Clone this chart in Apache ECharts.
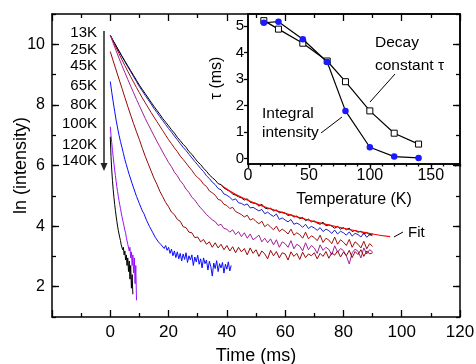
<!DOCTYPE html>
<html><head><meta charset="utf-8">
<script src="https://cdn.jsdelivr.net/npm/echarts@6/dist/echarts.min.js"></script>
<style>html,body{margin:0;padding:0;background:#fff}#c{width:476px;height:364px}</style>
</head><body><div id="c"></div>
<script>
// ---- main plot data ----
const seriesLabels = ['13K','25K','45K','65K','80K','100K','120K','140K'];
const T90 = [0,1,2,3,4,5,6,7,8,9,10,11,12,13,14,15,16,17,18,19,20,21,22,23,24,25,26,27,28,29,30,31,32,33,34,35,36,37,38,39,40,41,42,43,44,45,46,47,48,49,50,51,52,53,54,55,56,57,58,59,60,61,62,63,64,65,66,67,68,69,70,71,72,73,74,75,76,77,78,79,80,81,82,83,84,85,86,87,88,89,90];
const y13K = [10.30,10.12,9.95,9.78,9.61,9.45,9.29,9.13,8.97,8.81,
 8.65,8.51,8.37,8.23,8.09,7.95,7.82,7.69,7.55,7.43,
 7.31,7.18,7.07,6.93,6.82,6.70,6.60,6.46,6.37,6.24,
 6.12,6.03,5.91,5.81,5.69,5.60,5.52,5.40,5.37,5.26,
 5.20,5.15,5.06,5.02,4.97,4.93,4.86,4.90,4.79,4.76,
 4.75,4.66,4.72,4.60,4.57,4.59,4.50,4.53,4.44,4.46,
 4.43,4.35,4.38,4.30,4.33,4.24,4.29,4.18,4.23,4.14,
 4.17,4.10,4.06,4.13,4.01,4.04,4.00,3.93,3.99,3.90,
 3.95,3.88,3.93,3.82,3.86,3.80,3.83,3.74,3.79,3.71,
 3.74];
const y25K = [10.30,10.11,9.94,9.77,9.60,9.43,9.26,9.10,8.93,8.77,
 8.60,8.46,8.31,8.17,8.03,7.88,7.75,7.61,7.48,7.35,
 7.22,7.10,6.97,6.85,6.72,6.60,6.49,6.37,6.25,6.13,
 6.02,5.90,5.80,5.66,5.57,5.45,5.37,5.24,5.20,5.06,
 5.02,4.95,4.86,4.90,4.77,4.75,4.69,4.73,4.60,4.62,
 4.56,4.50,4.55,4.41,4.46,4.38,4.32,4.40,4.22,4.27,
 4.20,4.14,4.22,4.06,4.10,4.05,3.96,4.06,3.92,3.99,
 3.94,3.86,3.95,3.82,3.90,3.85,3.76,3.87,3.74,3.83,
 3.78,3.70,3.81,3.67,3.76,3.72,3.64,3.77,3.63,3.72,
 3.68];
const y45K = [10.30,10.09,9.89,9.69,9.49,9.30,9.11,8.93,8.75,8.57,
 8.40,8.23,8.07,7.91,7.75,7.60,7.45,7.30,7.15,7.00,
 6.85,6.72,6.58,6.46,6.31,6.20,6.08,5.95,5.84,5.70,
 5.60,5.52,5.38,5.31,5.16,5.10,5.02,4.88,4.85,4.72,
 4.68,4.58,4.62,4.48,4.43,4.38,4.30,4.36,4.20,4.25,
 4.15,4.08,4.16,3.98,4.06,3.97,3.88,4.00,3.82,3.90,
 3.83,3.74,3.90,3.70,3.78,3.72,3.60,3.80,3.58,3.68,
 3.62,3.52,3.70,3.46,3.60,3.54,3.42,3.64,3.40,3.55,
 3.47,3.36,3.56,3.30,3.48,3.40,3.28,3.50,3.25,3.42,
 3.33];
const y65K = [10.30,10.04,9.79,9.54,9.30,9.07,8.84,8.62,8.40,8.18,
 7.97,7.76,7.55,7.36,7.17,6.98,6.80,6.62,6.44,6.27,
 6.10,5.96,5.78,5.66,5.50,5.38,5.22,5.11,4.95,4.86,
 4.72,4.60,4.50,4.38,4.30,4.20,4.15,4.02,4.06,3.92,
 3.90,3.80,3.88,3.72,3.82,3.65,3.78,3.60,3.74,3.55,
 3.62,3.70,3.48,3.60,3.45,3.58,3.38,3.55,3.30,3.48,
 3.42,3.30,3.52,3.25,3.40,3.34,3.18,3.45,3.22,3.36,
 3.28,3.10,3.38,3.20,3.30,3.23,3.05,3.35,3.14,3.26,
 3.19,3.02,2.75,3.12,3.24,3.17,2.95,3.28,3.08,3.22,
 3.15];
const y80K = [9.76,9.45,9.15,8.85,8.55,8.25,7.95,7.66,7.38,7.11,
 6.85,6.57,6.30,6.06,5.82,5.58,5.38,5.15,4.97,4.78,
 4.64,4.46,4.38,4.22,4.16,3.98,3.95,3.80,3.78,3.62,
 3.64,3.48,3.56,3.40,3.48,3.30,3.45,3.28,3.40,3.22,
 3.36,3.18,3.32,3.12,3.30,3.15,3.26,3.05,3.28,3.10,
 3.22,3.00,3.18,3.08,2.92,3.20,3.02,3.16,2.95,3.12,
 3.08,2.88,3.15,3.00,3.10,2.90,3.14,2.96,3.08,3.02,
 3.12,2.92,3.10,3.00,3.16,2.94,3.12,3.04,3.18,2.98,
 3.14,3.02,3.20,2.96,3.16,3.06,3.22,3.00,3.18,3.08,
 3.12];
const T100K = [0,0.5,1,1.5,2,2.5,3,3.5,4,4.5,5,5.5,6,6.5,7,7.5,8,8.5,9,9.5,10,10.5,11,11.5,12,12.5,13,13.5,14,14.5,15,15.5,16,16.5,17,17.5,18,18.5,19,19.5,20,20.5,21,21.5,22,22.5,23,23.5,24,24.5,25,25.5,26,26.5,27,27.5,28,28.5,29,29.5,30,30.5,31,31.5,32,32.5,33,33.5,34,34.5,35,35.5,36,36.5,37,37.5,38,38.5,39,39.5,40,40.5,41,41.5];
const y100K = [8.77,8.42,8.10,7.79,7.50,7.24,7.00,6.79,6.60,6.40,
 6.20,6.03,5.86,5.70,5.55,5.40,5.26,5.12,4.98,4.86,
 4.74,4.62,4.50,4.42,4.30,4.18,4.12,3.98,3.95,3.80,
 3.76,3.62,3.66,3.48,3.52,3.38,3.44,3.26,3.36,3.20,
 3.30,3.10,3.24,3.02,3.18,2.96,3.15,2.92,3.10,2.85,
 3.08,2.90,3.12,2.80,3.02,2.88,3.05,2.70,2.98,2.82,
 3.04,2.74,2.92,2.62,2.95,2.76,2.88,2.55,2.84,2.66,
 2.35,2.78,2.60,2.86,2.50,2.76,2.62,2.80,2.45,2.74,
 2.58,2.82,2.52,2.70];
const T120K = [0,0.25,0.5,0.75,1,1.25,1.5,1.75,2,2.25,2.5,2.75,3,3.25,3.5,3.75,4,4.25,4.5,4.75,5,5.25,5.5,5.75,6,6.25,6.5,6.75,7,7.25,7.5,7.75,8,8.25,8.5,8.75,9];
const y120K = [7.28,7.00,6.75,6.50,6.28,6.06,5.86,5.67,5.48,5.30,
 5.14,4.98,4.84,4.70,4.58,4.44,4.32,4.20,4.10,3.98,
 3.86,3.78,3.62,3.58,3.40,3.42,3.18,3.30,2.95,3.15,
 2.70,3.05,2.45,2.95,2.10,2.70,1.55];
const T140K = [0,0.25,0.5,0.75,1,1.25,1.5,1.75,2,2.25,2.5,2.75,3,3.25,3.5,3.75,4,4.25,4.5,4.75,5,5.25,5.5,5.75,6,6.25,6.5,6.75,7,7.25,7.5,7.75];
const y140K = [6.95,6.30,5.85,5.50,5.20,4.95,4.72,4.52,4.33,4.16,
 4.00,3.86,3.74,3.62,3.52,3.38,3.42,3.22,3.30,3.05,
 3.18,2.88,3.05,2.70,2.95,2.50,2.85,2.25,2.70,1.95,
 2.40,1.75];
const TFit = [38,40,45,50,55,60,65,70,75,80,85,90,96];
const yFit = [5.36,5.22,4.95,4.74,4.57,4.42,4.28,4.15,4.04,3.93,3.83,3.74,3.65];
const xTicks = [0,20,40,60,80,100,120];
const yTicks = [2,4,6,8,10];

// ---- inset data ----
const insetTemps = [13,25,45,65,80,100,120,140];
const decayTau = [5.2,4.88,4.35,3.68,2.9,1.8,0.96,0.55];
const integralI = [5.12,5.16,4.5,3.64,1.8,0.43,0.08,0.03];
const insetXTicks = [0,50,100,150];
const insetYTicks = [0,1,2,3,4,5];

const FONT = 'Liberation Sans, Arial, sans-serif';
const zip = (a, b) => a.map((v, i) => [v, b[i]]);

const chart = echarts.init(document.getElementById('c'), null, {renderer: 'canvas'});

const axLine = {show: true, onZero: false, lineStyle: {color: '#000', width: 1.5}};
const noLine = {show: false, onZero: false};
const tickStyle = {color: '#000', width: 1.3};

function mainY(pos, labels) {
  return [{
    gridIndex: 0, type: 'value', position: pos, min: 1, max: 11, interval: 1,
    axisLine: axLine, splitLine: {show: false},
    axisTick: {show: true, inside: true, length: 4, lineStyle: tickStyle},
    axisLabel: labels ? {show: true, fontSize: 16, color: '#000', fontFamily: FONT, margin: 7,
      formatter: v => (yTicks.indexOf(v) >= 0 ? String(v) : '')} : {show: false},
    name: labels ? 'ln (intensity)' : '', nameLocation: 'middle', nameGap: 22, nameMoveOverlap: false,
    nameTextStyle: {fontSize: 18, color: '#000', fontFamily: FONT}
  }, {
    gridIndex: 0, type: 'value', position: pos, min: 1, max: 11,
    axisLine: noLine, splitLine: {show: false},
    axisTick: {show: true, inside: true, length: 7, lineStyle: tickStyle, customValues: yTicks},
    axisLabel: {show: false, customValues: yTicks}
  }];
}
function mainX(pos, labels) {
  return {
    gridIndex: 0, type: 'value', position: pos, min: -20, max: 120, interval: 20,
    axisLine: axLine, splitLine: {show: false},
    axisTick: {show: true, inside: true, length: 7, lineStyle: tickStyle},
    minorTick: {show: true, splitNumber: 2, length: 4, lineStyle: tickStyle},
    axisLabel: labels ? {show: true, fontSize: 17, color: '#000', fontFamily: FONT, margin: 7,
      formatter: v => (xTicks.indexOf(v) >= 0 ? String(v) : '')} : {show: false},
    name: labels ? 'Time (ms)' : '', nameLocation: 'middle', nameGap: 30, nameMoveOverlap: false,
    nameTextStyle: {fontSize: 18, color: '#000', fontFamily: FONT}
  };
}

const line = (x, y, color, extra) => Object.assign({
  type: 'line', xAxisIndex: 0, yAxisIndex: 0, data: zip(x, y), symbol: 'none',
  lineStyle: {color: color, width: 1}, itemStyle: {color: color}, animation: false, z: 2
}, extra || {});

const option = {
  animation: false,
  backgroundColor: '#fff',
  textStyle: {fontFamily: FONT},
  grid: [
    {left: 52, right: 16, top: 14, bottom: 47, show: false, containLabel: false, outerBoundsMode: 'none'},
    {left: 248, right: 16, top: 14, bottom: 200, show: true, borderColor: '#000', borderWidth: 1.5,
      backgroundColor: 'rgba(0,0,0,0)', containLabel: false, outerBoundsMode: 'none'}
  ],
  xAxis: [
    mainX('bottom', true),
    mainX('top', false),
    {
      gridIndex: 1, type: 'value', position: 'bottom', min: 0, max: 174,
      axisLine: axLine, splitLine: {show: false},
      axisTick: {show: true, inside: false, length: 4, lineStyle: tickStyle, customValues: insetXTicks},
      axisLabel: {show: true, fontSize: 16, color: '#000', fontFamily: FONT, margin: 4, customValues: insetXTicks},
      name: 'Temperature (K)', nameLocation: 'middle', nameGap: 28, nameMoveOverlap: false,
      nameTextStyle: {fontSize: 16, color: '#000', fontFamily: FONT}
    },
    {
      gridIndex: 1, type: 'value', position: 'bottom', min: 0, max: 174, interval: 10,
      axisLine: noLine, splitLine: {show: false},
      axisTick: {show: true, inside: false, length: 2.5, lineStyle: tickStyle},
      axisLabel: {show: false}
    }
  ],
  yAxis: [].concat(mainY('left', true), mainY('right', false), [{
      gridIndex: 1, type: 'value', position: 'left', min: -0.2, max: 5.45,
      axisLine: axLine, splitLine: {show: false},
      axisTick: {show: true, inside: false, length: 4, lineStyle: tickStyle, customValues: insetYTicks},
      axisLabel: {show: true, fontSize: 15, color: '#000', fontFamily: FONT, margin: 4, customValues: insetYTicks}
    }]),
  series: [
    line(T90, y25K, '#1c1cc4'),
    line(T90, y13K, '#000000'),
    line(T90, y45K, '#a01010'),
    line(T90, y65K, '#a0209c'),
    line(T90, y80K, '#960808'),
    line(T100K, y100K, '#0a0aff'),
    line(T120K, y120K, '#9a10ff'),
    line(T140K, y140K, '#000000'),
    line(TFit, yFit, '#ff0000', {smooth: true, lineStyle: {color: '#ff0000', width: 1.2}, z: 3}),
    {
      type: 'line', xAxisIndex: 2, yAxisIndex: 4, data: zip(insetTemps, decayTau),
      symbol: 'rect', symbolSize: 6, showAllSymbol: true,
      lineStyle: {color: '#000', width: 1.2},
      itemStyle: {color: '#fff', borderColor: '#000', borderWidth: 1}, z: 3
    },
    {
      type: 'line', xAxisIndex: 2, yAxisIndex: 4, data: zip(insetTemps, integralI),
      symbol: 'circle', symbolSize: 6.5, showAllSymbol: true,
      lineStyle: {color: '#000', width: 1.2},
      itemStyle: {color: '#1a1aff', borderColor: '#1a1aff', borderWidth: 0}, z: 4
    }
  ],
  graphic: [].concat(
    seriesLabels.map((s, i) => ({
      type: 'text', x: 97, y: [33, 50, 66, 86, 105, 124, 145, 161][i],
      style: {text: s, font: '15px ' + FONT, fill: '#000', align: 'right', verticalAlign: 'middle'}
    })),
    [
      {type: 'line', shape: {x1: 104, y1: 31, x2: 104, y2: 165}, style: {stroke: '#222', lineWidth: 1.5}},
      {type: 'polygon', shape: {points: [[100.5, 163], [107.5, 163], [104, 171]]}, style: {fill: '#222'}},
      {type: 'text', x: 217, y: 78, rotation: Math.PI / 2,
        style: {text: 'τ (ms)', font: '16px ' + FONT, fill: '#000', align: 'center', verticalAlign: 'middle'}},
      {type: 'text', x: 375, y: 43, style: {text: 'Decay', font: '15.5px ' + FONT, fill: '#000', align: 'left', verticalAlign: 'middle'}},
      {type: 'text', x: 375, y: 66, style: {text: 'constant τ', font: '15.5px ' + FONT, fill: '#000', align: 'left', verticalAlign: 'middle'}},
      {type: 'line', shape: {x1: 395, y1: 74, x2: 370, y2: 102}, style: {stroke: '#000', lineWidth: 1}},
      {type: 'text', x: 262, y: 114, style: {text: 'Integral', font: '15.5px ' + FONT, fill: '#000', align: 'left', verticalAlign: 'middle'}},
      {type: 'text', x: 262, y: 133, style: {text: 'intensity', font: '15.5px ' + FONT, fill: '#000', align: 'left', verticalAlign: 'middle'}},
      {type: 'line', shape: {x1: 321, y1: 133, x2: 342, y2: 117}, style: {stroke: '#000', lineWidth: 1}},
      {type: 'text', x: 408, y: 233, style: {text: 'Fit', font: '15px ' + FONT, fill: '#000', align: 'left', verticalAlign: 'middle'}},
      {type: 'line', shape: {x1: 394, y1: 237, x2: 403, y2: 232}, style: {stroke: '#000', lineWidth: 1}}
    ]
  )
};
chart.setOption(option);
</script></body></html>
